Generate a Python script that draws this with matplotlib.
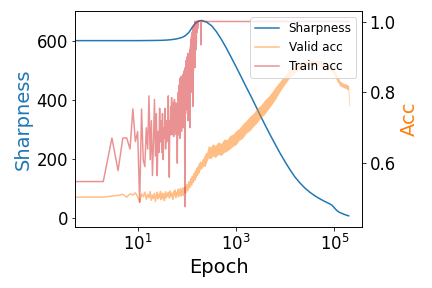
import matplotlib
matplotlib.use('Agg')
import matplotlib.pyplot as plt

# sharpness (smooth curve)
sharp_epoch = [0, 1, 10, 20, 30, 40, 50, 60, 70, 80, 90, 100, 110, 120, 130, 140, 150, 165,
               180, 200, 250, 320, 400, 500, 630, 790,
               1000, 1260, 1580, 2000, 2500, 3160, 3980, 5000, 6300, 7900,
               10000, 12600, 15800, 20000, 25100, 31600, 39800, 50100, 63100, 79400,
               89100, 100000, 112000, 126000, 158000, 195000]
sharp_vals = [600, 600, 600, 600.5, 601, 602, 603.5, 605.5, 608, 611, 615, 621, 628, 637, 646, 653, 659, 664,
              667, 668, 663, 650, 630, 605, 576, 545,
              512, 479, 446, 413, 380, 345, 312, 280, 249, 219,
              190, 163, 139, 119, 102, 88, 76, 66, 57, 49,
              44, 35, 26, 20, 13, 8]

# train accuracy, one value per epoch 0..200, then flat
train_epoch = list(range(0, 201)) + [300, 1000, 10000, 100000, 200000]
train_vals = [
    0.548, 0.548, 0.548, 0.671, 0.579, 0.671, 0.671, 0.640, 0.753, 0.661, 0.689,
    0.489, 0.753,
    0.609, 0.59, 0.70, 0.64, 0.79, 0.61, 0.72, 0.565,
    0.66, 0.78, 0.62, 0.74, 0.565, 0.69, 0.63, 0.755, 0.66, 0.72,
    0.63, 0.74, 0.61, 0.70, 0.67, 0.755, 0.64, 0.72, 0.66, 0.70,
    0.68, 0.79, 0.65, 0.56, 0.72, 0.68, 0.76, 0.70, 0.785, 0.68,
    0.74, 0.70, 0.77, 0.675, 0.73, 0.78, 0.69, 0.75, 0.71, 0.77,
    0.68, 0.74, 0.72, 0.60, 0.76, 0.70, 0.80, 0.68, 0.82, 0.72,
    0.79, 0.67, 0.84, 0.70, 0.81, 0.74, 0.845, 0.69, 0.80, 0.76,
    0.83, 0.72, 0.85, 0.70, 0.82, 0.75, 0.86, 0.73, 0.84, 0.78,
    0.477, 0.80, 0.87, 0.74, 0.85, 0.78, 0.89, 0.76, 0.88, 0.80,
    0.90, 0.75, 0.87, 0.81, 0.91, 0.72, 0.88, 0.83, 0.90, 0.78,
    0.91, 0.80, 0.89, 0.84, 0.92, 0.70, 0.90, 0.86, 0.93, 0.80,
    0.95, 0.84, 0.93, 0.80, 0.96, 0.87, 0.94, 0.82, 0.97, 0.88,
    0.95, 0.76, 0.98, 0.90, 0.96, 0.86, 0.98, 0.92, 0.97, 0.89,
    0.99, 0.93, 0.98, 0.91, 1.0, 0.94, 0.99, 0.87, 1.0, 0.95,
    0.99, 0.92, 1.0, 0.96, 1.0, 0.94, 1.0, 0.97, 1.0, 0.98,
    1.0, 0.97, 1.0, 0.99, 1.0, 0.98, 1.0, 1.0, 0.99, 1.0,
    1.0, 1.0, 1.0, 1.0, 1.0, 1.0, 1.0, 1.0, 1.0, 1.0,
    1.0, 1.0, 1.0, 1.0, 1.0, 1.0, 1.0, 1.0, 1.0, 1.0,
    1.0, 1.0, 1.0, 0.934, 1.0, 1.0, 1.0, 1.0, 1.0, 1.0,
    1.0, 1.0, 1.0, 1.0, 1.0]

# valid accuracy, early part (line)
valid_epoch = list(range(0, 41)) + list(range(42, 91, 2)) + list(range(95, 201, 5))
valid_vals = [
    0.504, 0.504, 0.504, 0.507, 0.509, 0.512, 0.504, 0.513, 0.510, 0.516, 0.505, 0.490, 0.513,
    0.505, 0.518, 0.498, 0.512, 0.502, 0.520, 0.495, 0.510, 0.500, 0.515, 0.492, 0.508, 0.518, 0.499,
    0.511, 0.503, 0.520, 0.497, 0.509, 0.515, 0.500, 0.512, 0.494, 0.510, 0.519, 0.502, 0.513, 0.506,
    0.518, 0.501, 0.522, 0.505, 0.515, 0.498, 0.520, 0.508, 0.524, 0.503, 0.517, 0.510, 0.526,
    0.505, 0.519, 0.512, 0.528, 0.507, 0.522, 0.515, 0.530, 0.509, 0.526, 0.518, 0.532,
    0.515, 0.540, 0.522, 0.548, 0.530, 0.556, 0.538, 0.563, 0.545, 0.570, 0.552, 0.578,
    0.560, 0.585, 0.566, 0.590, 0.572, 0.597, 0.580, 0.603, 0.585, 0.600]

# valid accuracy, late part: noisy band (low / high envelope)
band_epoch = [200, 215, 235, 255, 275, 300, 340, 380, 430, 500,
              570, 650, 750, 870, 1000, 1150, 1350, 1600, 1900, 2300,
              2700, 3200, 3800, 4500, 5300, 6300, 7500, 9000, 11000, 13000,
              16000, 20000, 26000, 33000, 42000, 55000, 70000, 85000, 95000, 105000,
              115000, 130000, 150000, 175000, 190000, 195000, 200000]
band_lo = [0.582, 0.592, 0.590, 0.605, 0.615, 0.612, 0.620, 0.616, 0.624, 0.622,
           0.630, 0.634, 0.640, 0.648, 0.652, 0.664, 0.670, 0.684, 0.692, 0.705,
           0.715, 0.728, 0.738, 0.752, 0.765, 0.780, 0.798, 0.815, 0.832, 0.846,
           0.856, 0.866, 0.872, 0.876, 0.877, 0.874, 0.869, 0.862, 0.852, 0.840,
           0.830, 0.818, 0.814, 0.810, 0.806, 0.765, 0.760]
band_hi = [0.610, 0.615, 0.628, 0.632, 0.650, 0.645, 0.655, 0.650, 0.660, 0.656,
           0.668, 0.666, 0.678, 0.682, 0.692, 0.698, 0.710, 0.720, 0.732, 0.742,
           0.756, 0.764, 0.778, 0.788, 0.800, 0.815, 0.828, 0.842, 0.856, 0.866,
           0.874, 0.883, 0.888, 0.890, 0.891, 0.889, 0.883, 0.876, 0.868, 0.858,
           0.845, 0.832, 0.826, 0.823, 0.820, 0.818, 0.765]

fig, ax = plt.subplots(figsize=(6, 4), dpi=72)
fig.subplots_adjust(left=0.174, right=0.839, bottom=0.211, top=0.961)

ax.set_xscale('log')
l1, = ax.plot(sharp_epoch, sharp_vals, color='tab:blue', lw=1.5, label='Sharpness')
ax.set_ylim(-30.4, 699.3)
ax.set_xlabel('Epoch', fontsize=19.5)
ax.set_ylabel('Sharpness', fontsize=19.5, color='tab:blue')
ax.tick_params(labelsize=16.5)

ax2 = ax.twinx()
l2, = ax2.plot(valid_epoch, valid_vals, color='tab:orange', alpha=0.5, lw=1.5, label='Valid acc')
ax2.fill_between(band_epoch, band_lo, band_hi, color='tab:orange', alpha=0.5, lw=0)
l3, = ax2.plot(train_epoch, train_vals, color='tab:red', alpha=0.5, lw=1.5, label='Train acc')
ax2.set_ylim(0.419, 1.029)
ax2.set_ylabel('Acc', fontsize=19.5, color='tab:orange')
ax2.tick_params(labelsize=16.5)
ax2.set_xlim(10 ** -0.27, 10 ** 5.57)

ax2.legend(handles=[l1, l2, l3], loc='upper right', fontsize=12)

plt.savefig('out.png', dpi=72)
